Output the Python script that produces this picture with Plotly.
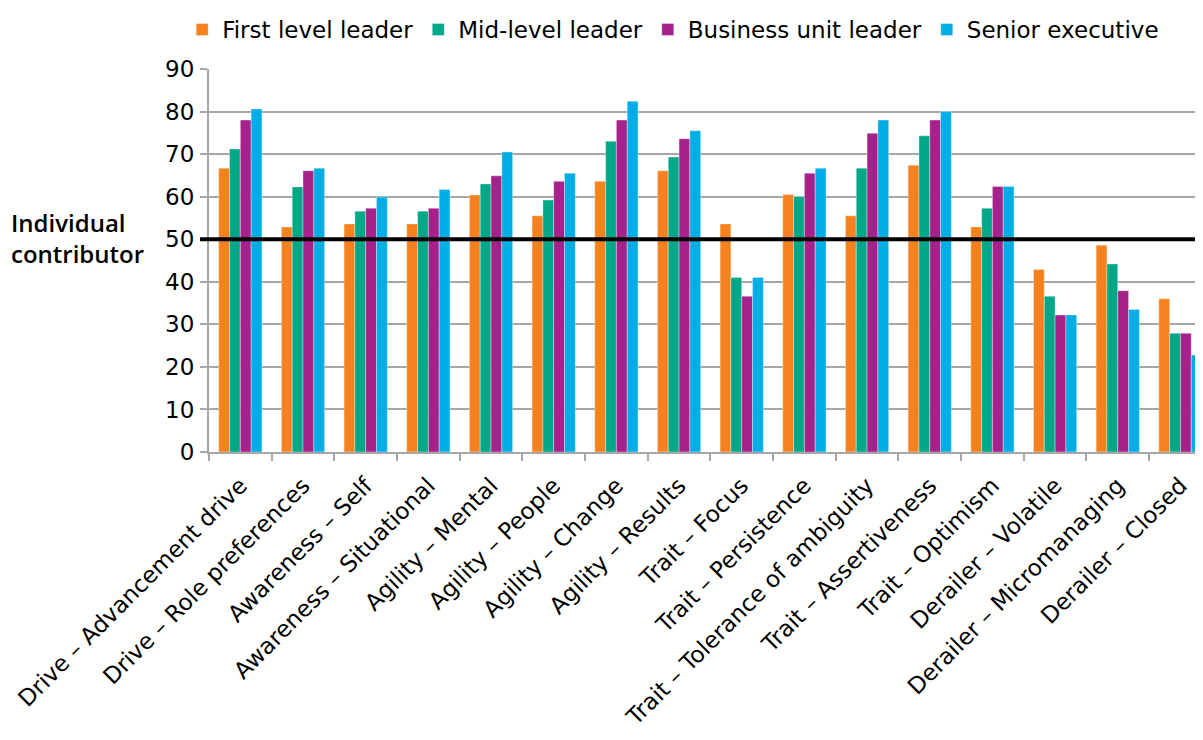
import plotly.graph_objects as go

# categories and values
categorias = [
    "Drive – Advancement drive", "Drive – Role preferences", "Awareness – Self",
    "Awareness – Situational", "Agility – Mental", "Agility – People",
    "Agility – Change", "Agility – Results", "Trait – Focus", "Trait – Persistence",
    "Trait – Tolerance of ambiguity", "Trait – Assertiveness", "Trait – Optimism",
    "Derailer – Volatile", "Derailer – Micromanaging", "Derailer – Closed",
]
first_level = [66.7, 52.9, 53.6, 53.6, 60.4, 55.5, 63.6, 66.1, 53.6, 60.5, 55.5, 67.4, 52.9, 42.9, 48.6, 36.0]
mid_level = [71.2, 62.3, 56.6, 56.6, 63.0, 59.2, 73.0, 69.3, 41.0, 60.0, 66.7, 74.3, 57.3, 36.6, 44.2, 27.9]
business_unit = [78.0, 66.1, 57.3, 57.3, 64.9, 63.6, 78.0, 73.6, 36.6, 65.5, 74.9, 78.0, 62.4, 32.2, 37.9, 27.9]
senior_exec = [80.6, 66.7, 59.9, 61.7, 70.5, 65.5, 82.4, 75.5, 41.0, 66.7, 78.0, 80.0, 62.4, 32.2, 33.5, 22.8]

series = [
    ("First level leader", first_level, "#F5821F"),
    ("Mid-level leader", mid_level, "#00A887"),
    ("Business unit leader", business_unit, "#A7218A"),
    ("Senior executive", senior_exec, "#00AEE6"),
]

FUENTE = "DejaVu Sans"

fig = go.Figure()
for nombre, valores, color in series:
    fig.add_trace(go.Bar(
        x=categorias, y=valores, name=nombre,
        marker=dict(color=color, line=dict(color="rgba(255,255,255,0.6)", width=0.6)),
    ))

# linea de referencia: individual contributor = 50
fig.add_shape(type="line", xref="paper", yref="y", x0=-0.009, x1=1, y0=50, y1=50,
              line=dict(color="black", width=4), layer="above")
fig.add_annotation(text="Individual<br>contributor", xref="paper", yref="paper",
                   x=-0.201, y=(50 + 0.3) / 90, xanchor="left", yanchor="middle",
                   showarrow=False, align="left",
                   font=dict(family="Open Sans", size=24, color="black", weight=600))

# la pagina tiene 8px de margen en el body: figura un poco mas chica
fig.update_layout(
    width=1195, height=732,
    margin=dict(l=201, r=0, t=61, b=288),
    plot_bgcolor="white", paper_bgcolor="white",
    barmode="group", bargap=0.31, bargroupgap=0,
    font=dict(family=FUENTE, size=22, color="black"),
    legend=dict(orientation="h", x=-0.027, y=1 + 61 / 383, xanchor="left", yanchor="top",
                font=dict(size=23), itemwidth=30, traceorder="normal"),
    showlegend=True,
)
# el ultimo grupo queda cortado por el borde derecho, como en el original
fig.update_xaxes(
    range=[-0.5, 15.36],
    tickangle=-45, showline=True, linecolor="#a6a6a6", linewidth=2,
    ticks="outside", ticklen=7, tickcolor="#a6a6a6", tickwidth=1.5,
    tickson="boundaries", tickfont=dict(size=23), ticklabelstandoff=9,
    showgrid=False, automargin=False,
)
fig.update_yaxes(
    range=[0, 90], tickvals=list(range(0, 91, 10)), showline=True,
    linecolor="#a6a6a6", linewidth=2, ticks="outside", ticklen=7,
    tickcolor="#a6a6a6", tickwidth=1.5, gridcolor="#a6a6a6", gridwidth=1.5,
    tickfont=dict(size=23), ticklabelstandoff=1, zeroline=False, automargin=False,
)

fig.write_html("out.html")
